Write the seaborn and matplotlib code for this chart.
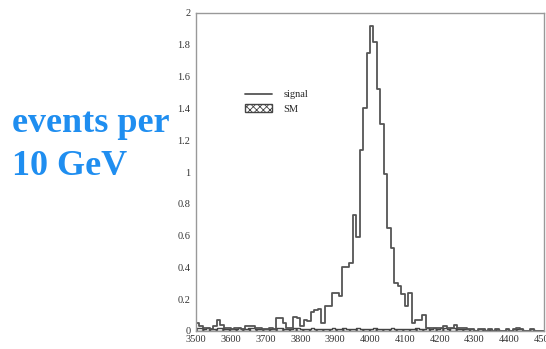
import matplotlib
matplotlib.use("Agg")
import matplotlib.pyplot as plt
from matplotlib.ticker import MultipleLocator, FixedLocator, FixedFormatter
import seaborn as sns
import pandas as pd


#---------- Data (events per 10 GeV, 3500-4500 GeV) ----------
bin_edges = list(range(3500, 4510, 10))
bin_centers = [e + 5 for e in bin_edges[:-1]]

signal = [
    0.05, 0.03, 0.02, 0.02, 0.01, 0.03, 0.07, 0.04, 0.02, 0.02,
    0.01, 0.02, 0.02, 0.01, 0.03, 0.03, 0.03, 0.02, 0.02, 0.01,
    0.01, 0.02, 0.01, 0.08, 0.08, 0.05, 0.02, 0.02, 0.09, 0.08,
    0.03, 0.07, 0.06, 0.12, 0.13, 0.14, 0.05, 0.16, 0.16, 0.24,
    0.24, 0.22, 0.40, 0.40, 0.43, 0.73, 0.59, 1.14, 1.40, 1.75,
    1.92, 1.82, 1.52, 1.30, 0.99, 0.65, 0.52, 0.30, 0.28, 0.23,
    0.16, 0.24, 0.05, 0.07, 0.07, 0.10, 0.02, 0.02, 0.02, 0.02,
    0.02, 0.03, 0.02, 0.02, 0.04, 0.02, 0.02, 0.02, 0.01, 0.01,
    0.00, 0.01, 0.01, 0.00, 0.01, 0.00, 0.01, 0.00, 0.00, 0.01,
    0.00, 0.01, 0.02, 0.01, 0.00, 0.00, 0.01, 0.00, 0.00, 0.00,
]

sm = [
    0.02, 0.02, 0.01, 0.02, 0.01, 0.01, 0.02, 0.02, 0.01, 0.01,
    0.01, 0.01, 0.02, 0.01, 0.01, 0.02, 0.02, 0.01, 0.01, 0.01,
    0.01, 0.01, 0.01, 0.02, 0.02, 0.01, 0.01, 0.01, 0.02, 0.02,
    0.01, 0.01, 0.01, 0.02, 0.01, 0.01, 0.01, 0.01, 0.01, 0.02,
    0.01, 0.01, 0.02, 0.01, 0.01, 0.01, 0.02, 0.01, 0.01, 0.01,
    0.01, 0.02, 0.01, 0.01, 0.01, 0.01, 0.02, 0.01, 0.01, 0.01,
    0.01, 0.01, 0.01, 0.02, 0.01, 0.01, 0.02, 0.01, 0.02, 0.01,
    0.02, 0.02, 0.01, 0.02, 0.02, 0.01, 0.01, 0.01, 0.01, 0.01,
    0.00, 0.01, 0.01, 0.00, 0.01, 0.00, 0.01, 0.00, 0.00, 0.01,
    0.00, 0.01, 0.01, 0.01, 0.00, 0.00, 0.01, 0.00, 0.00, 0.00,
]

x_ticks = [3500, 3600, 3700, 3800, 3900, 4000, 4100, 4200, 4300, 4400, 4500]
y_ticks = [0, 0.2, 0.4, 0.6, 0.8, 1, 1.2, 1.4, 1.6, 1.8, 2]
y_labels = ["0", "0.2", "0.4", "0.6", "0.8", "1", "1.2", "1.4", "1.6", "1.8", "2"]

df = pd.DataFrame({"mass": bin_centers, "signal": signal, "sm": sm})


#---------- Style ----------
sns.set_style("white")
plt.rcParams["font.family"] = ["Liberation Serif", "DejaVu Serif"]
plt.rcParams["hatch.color"] = "#555555"
plt.rcParams["hatch.linewidth"] = 0.6

fig = plt.figure(figsize=(5.46, 3.49), dpi=100)
ax = fig.add_axes([196/546, 18/349, 348/546, 318/349])

sns.histplot(
    data=df, x="mass", weights="sm", bins=bin_edges,
    element="step", fill=True, hatch="xxxxx",
    facecolor="white", edgecolor="#444444", linewidth=1.0,
    label="SM", ax=ax
)
sns.histplot(
    data=df, x="mass", weights="signal", bins=bin_edges,
    element="step", fill=False, color="#555555", linewidth=1.3,
    label="signal", ax=ax
)

ax.set_xlim(3500, 4500)
ax.set_ylim(0, 2)
ax.set_xlabel("")
ax.set_ylabel("")

ax.xaxis.set_major_locator(FixedLocator(x_ticks))
ax.xaxis.set_minor_locator(MultipleLocator(20))
ax.yaxis.set_major_locator(FixedLocator(y_ticks))
ax.yaxis.set_major_formatter(FixedFormatter(y_labels))
ax.yaxis.set_minor_locator(MultipleLocator(0.04))
ax.tick_params(which="both", direction="in", colors="#555555",
               labelcolor="#333333", labelsize=7.5, top=False, right=False)
ax.tick_params(which="major", length=5, width=0.8)
ax.tick_params(which="minor", length=2.5, width=0.6)
ax.tick_params(axis="y", pad=4)
ax.tick_params(axis="x", pad=3)

for s in ax.spines.values():
    s.set_color("#999999")
    s.set_linewidth(1.0)

# legend, signal first
handles, labels = ax.get_legend_handles_labels()
order = [labels.index("signal"), labels.index("SM")]
ax.legend([handles[i] for i in order], [labels[i] for i in order],
          loc="upper left", bbox_to_anchor=(0.125, 0.775), frameon=False,
          fontsize=7.5, handlelength=2.6, handleheight=0.8,
          handletextpad=1.1, labelspacing=0.45, borderpad=0)

# blue annotation
fig.text(12/546, 1 - 132/349, "events per", color="#1f8ef0", fontsize=26,
         fontweight="bold", va="baseline", ha="left")
fig.text(12/546, 1 - 175/349, "10 GeV", color="#1f8ef0", fontsize=26,
         fontweight="bold", va="baseline", ha="left")

plt.savefig("out.png", dpi=100)
